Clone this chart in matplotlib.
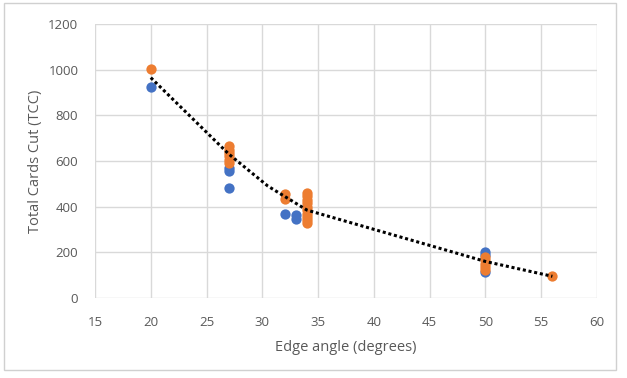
import matplotlib
matplotlib.use("Agg")
import matplotlib.pyplot as plt
from matplotlib.patches import Rectangle

# data
blue_x = [20, 27, 27, 27, 32, 33, 33, 50, 50, 50]
blue_y = [925, 570, 555, 480, 370, 365, 345, 200, 190, 115]

orange_x = [20,
            27, 27, 27, 27, 27, 27,
            32, 32,
            34, 34, 34, 34, 34, 34, 34, 34, 34, 34,
            50, 50, 50, 50, 50,
            56]
orange_y = [1005,
            665, 650, 635, 620, 605, 590,
            455, 435,
            460, 445, 430, 415, 400, 385, 370, 355, 340, 330,
            180, 165, 150, 135, 122,
            95]

trend_x = [20, 27, 30.5, 34, 50, 56]
trend_y = [965, 630, 490, 385, 160, 95]

x_ticks = [15, 20, 25, 30, 35, 40, 45, 50, 55, 60]
y_ticks = [0, 200, 400, 600, 800, 1000, 1200]

blue = "#4472C4"
orange = "#ED7D31"
grid = "#D9D9D9"
text = "#595959"

plt.rcParams['font.family'] = ['Open Sans', 'DejaVu Sans']

fig = plt.figure(figsize=(6.27, 3.78), dpi=100)
ax = fig.add_axes([95 / 627, 1 - 298 / 378, (597 - 95) / 627, (298 - 24) / 378])

ax.scatter(blue_x, blue_y, s=55, color=blue, zorder=3, linewidths=0)
ax.scatter(orange_x, orange_y, s=55, color=orange, zorder=3, linewidths=0)
ax.plot(trend_x, trend_y, color="black", linewidth=2.2, linestyle=(0, (1, 0.9)),
        dash_capstyle="butt", zorder=4)

ax.set_xlim(15, 60)
ax.set_ylim(0, 1200)
ax.set_xticks(x_ticks)
ax.set_yticks(y_ticks)
ax.grid(True, color=grid, linewidth=1)
ax.set_axisbelow(True)
for s in ax.spines.values():
    s.set_visible(False)
ax.tick_params(length=0, labelsize=9.5, labelcolor=text, pad=12)
ax.tick_params(axis='x', pad=13)

ax.set_xlabel("Edge angle (degrees)", fontsize=10.5, color=text, labelpad=8)
ax.set_ylabel("Total Cards Cut (TCC)", fontsize=10.5, color=text, labelpad=4)

# chart border like the Excel chart area
fig.patches.append(Rectangle((4 / 627, 1 - 370 / 378), 612 / 627, 367 / 378,
                             transform=fig.transFigure, fill=False,
                             edgecolor="#D0D0D0", linewidth=1))

fig.savefig("out.png", dpi=100, facecolor="white")
